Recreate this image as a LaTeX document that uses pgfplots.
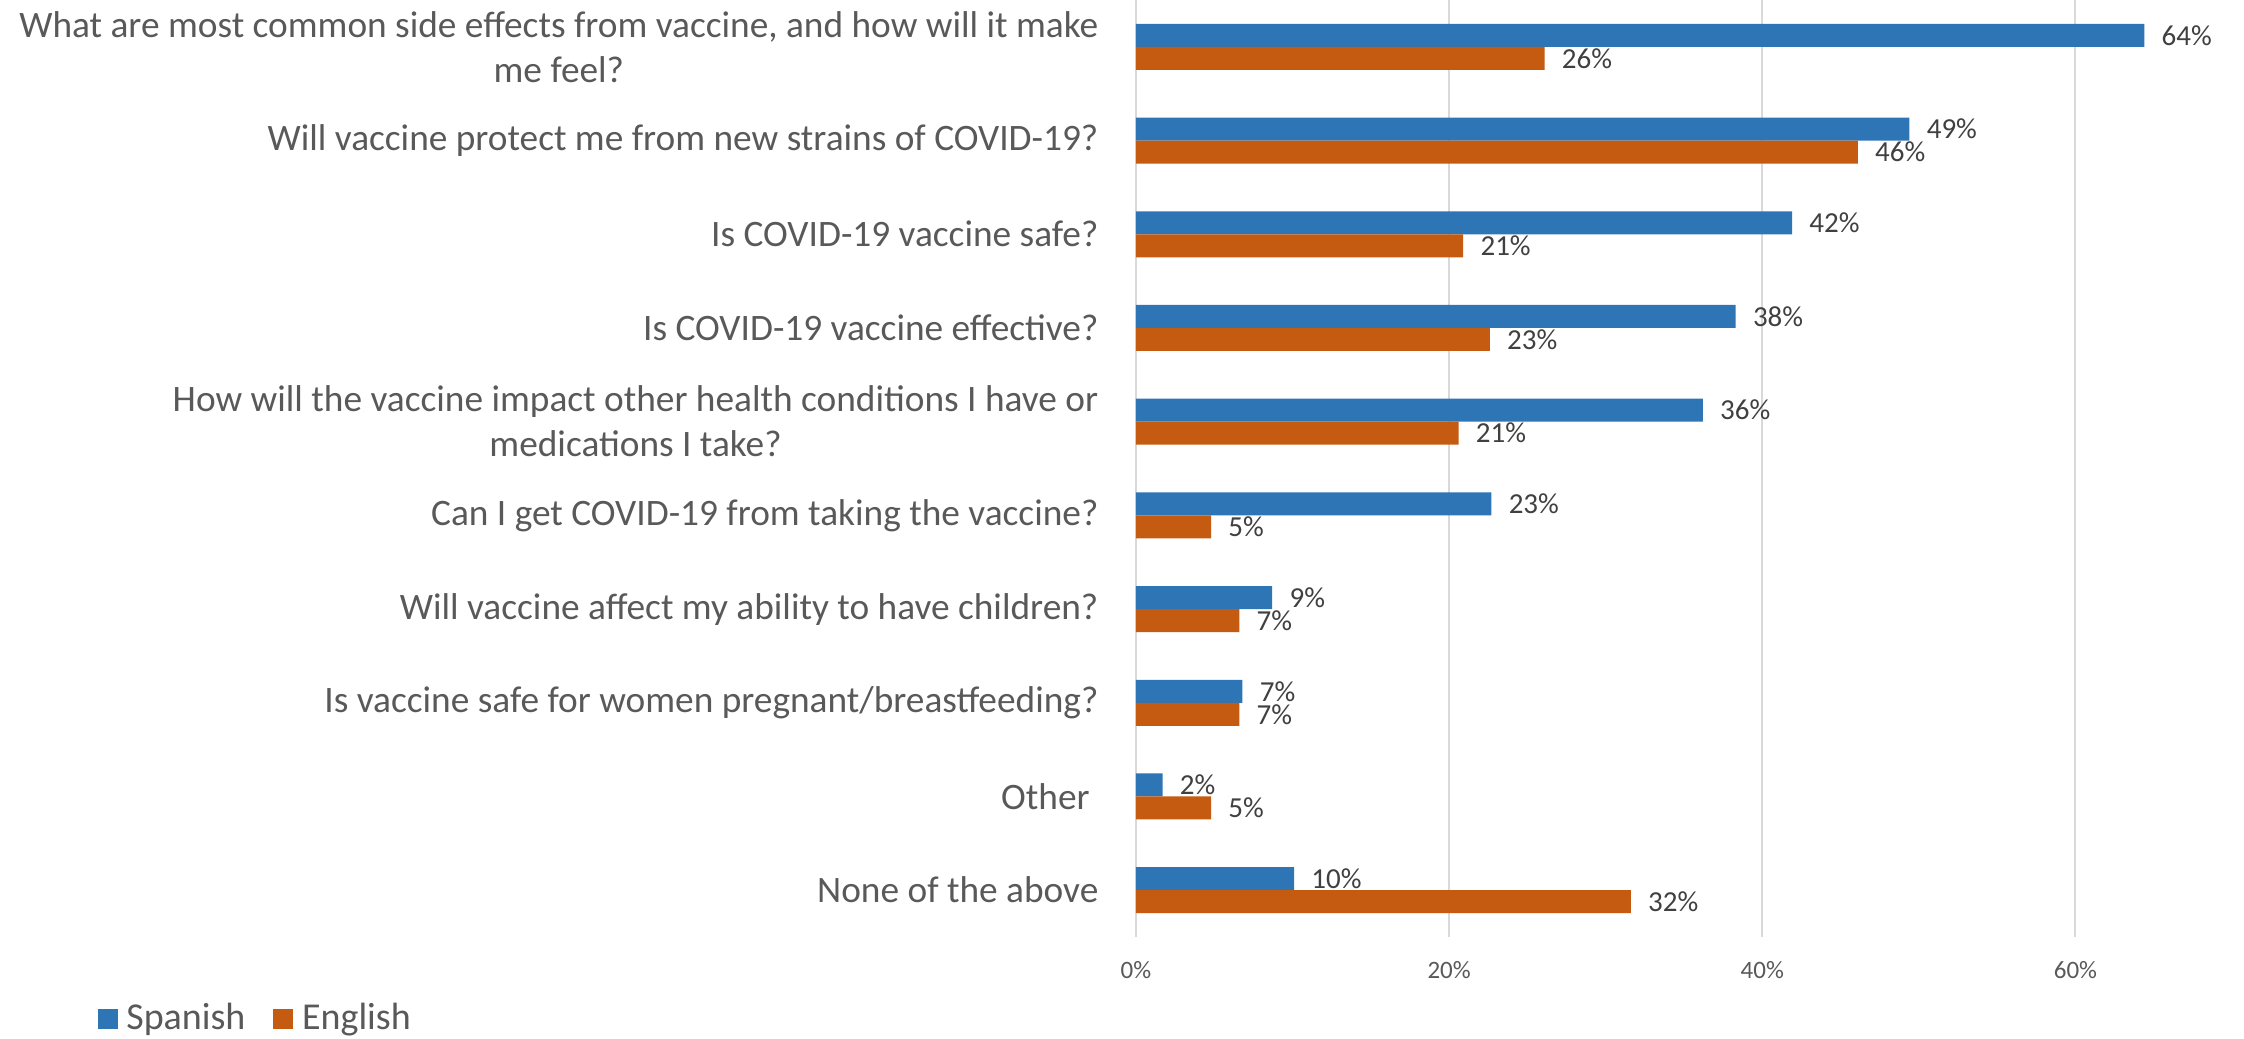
\documentclass[border=0pt]{standalone}
\usepackage{pgfplots}
\pgfplotsset{compat=1.18}
\usepackage{fontspec}
\setmainfont{Carlito}
\definecolor{spanish}{HTML}{2E75B6}
\definecolor{english}{HTML}{C55A11}
\definecolor{txt}{HTML}{595959}
\definecolor{lbl}{HTML}{404040}
\definecolor{grd}{HTML}{D9D9D9}
\begin{document}
\begin{tikzpicture}
\begin{axis}[
  name=ax,
  xbar, scale only axis,
  width=328.8pt, height=281.1pt,
  xmin=0, xmax=70, ymin=-0.5, ymax=9.5,
  bar width=6.9pt,
  axis line style={draw=none},
  major tick length=0pt,
  xtick={0,20,40,60}, xticklabels={0\%,20\%,40\%,60\%},
  xmajorgrids, grid style={grd, line width=0.6pt},
  ytick={0,...,9},
  yticklabels={
    None of the above,
    {Other\rule{2.6pt}{0pt}},
    Is vaccine safe for women pregnant/breastfeeding?,
    Will vaccine affect my ability to have children?,
    Can I get COVID-19 from taking the vaccine?,
    {How will the vaccine impact other health conditions I have or\\medications I take?},
    Is COVID-19 vaccine effective?,
    Is COVID-19 vaccine safe?,
    Will vaccine protect me from new strains of COVID-19?,
    {What are most common side effects from vaccine, and how will it make\\me feel?}
  },
  yticklabel style={font=\fontsize{11.2}{13.5}\selectfont, text=txt, align=center, inner sep=0pt, xshift=-11.1pt},
  xticklabel style={font=\fontsize{7.5}{9}\selectfont, text=txt, inner sep=0pt, yshift=-7pt},
  point meta=x,
  nodes near coords={\pgfmathprintnumber[fixed,precision=0]{\pgfplotspointmeta}\%},
  nodes near coords style={font=\fontsize{8.7}{10}\selectfont, text=lbl, anchor=west, inner sep=0pt, xshift=5pt},
  /pgf/number format/assume math mode=true,
  legend style={at={(-0.948,-0.0875)}, anchor=west, draw=none, fill=none, legend columns=2, font=\fontsize{11.4}{13}\selectfont, text=txt, inner sep=0pt, column sep=0pt, /tikz/every even column/.append style={column sep=6.4pt}},
  legend image code/.code={\fill[#1] (0pt,-3pt) rectangle (6pt,3pt); \path (6.6pt,0pt);},
]
\addplot[fill=spanish, draw=none, bar shift=3.45pt] coordinates {
(10.1,0) (1.7,1) (6.8,2) (8.7,3) (22.7,4) (36.2,5) (38.3,6) (41.9,7) (49.4,8) (64.4,9)};
\addplot[fill=english, draw=none, bar shift=-3.45pt] coordinates {
(31.6,0) (4.8,1) (6.6,2) (6.6,3) (4.8,4) (20.6,5) (22.6,6) (20.9,7) (46.1,8) (26.1,9)};
\legend{Spanish, English}
\end{axis}
\pgfresetboundingbox
\useasboundingbox (ax.south west) ++(-340.8pt,-30.3pt) rectangle ++(673.2pt,311.4pt);
\end{tikzpicture}
\end{document}
